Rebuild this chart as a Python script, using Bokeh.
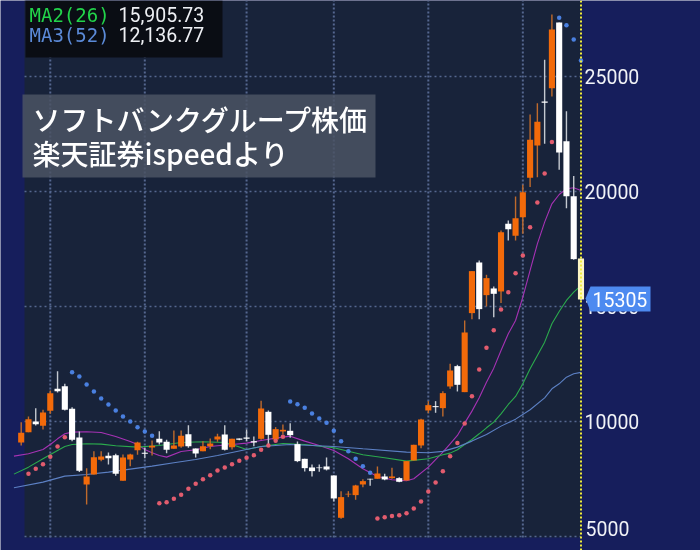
from bokeh.plotting import figure
from bokeh.embed import file_html
from bokeh.resources import INLINE
from bokeh.models import Range1d, FixedTicker, BoxAnnotation, PolyAnnotation, Label

opens = [9088,9537,10001,9813,10465,11421,11537,10552,9305,7262,7697,8335,8509,8538,7422,8349,8755,8639,8871,9247,
         9117,8813,8914,9450,8827,8711,8929,9219,9436,8885,9262,9305,9146,9247,10421,9219,9566,9595,9016,8378,
         8001,8001,8045,7654,5813,6828,6799,7262,7509,7509,7610,7538,7538,7436,8306,8958,10479,10668,10581,11523,
         12407,11277,14712,16914,15494,15784,15654,18595,18074,18885,20596,22002,23914,24494,27349,22190,19798,17088]
highs = [9972,10218,10581,10508,11349,12189,11638,10624,9566,7972,8711,8711,8654,8596,8566,8595,9117,8856,9175,9581,
         9204,9610,9610,9842,8827,9146,9262,9465,9842,9247,9262,9653,9349,10899,10479,9755,9871,9929,9131,8378,
         8132,8132,8436,7654,6972,6972,7248,7494,7509,8045,7726,7987,7581,8277,8987,10117,10885,10885,11320,12508,
         12465,14393,16538,17001,16378,15871,18306,18740,19783,20292,23349,23842,25726,27696,27349,23494,20669,17088]
lows = [8958,9537,9827,9653,10334,11262,10479,9146,7799,6393,7697,8277,8132,7639,7422,8059,8552,8407,8523,9001,
        8624,8813,8856,8856,8436,8711,8798,9117,8740,8784,9190,9146,8929,9204,8958,9175,9436,9291,8233,7827,
        7610,7813,7871,6523,5770,6712,6596,7146,7204,7509,7451,7509,7364,7436,8306,8842,10363,10378,10218,11421,
        11306,11277,14451,14451,15002,14538,15147,17871,17871,18161,20191,20625,22074,24132,20944,19276,17030,15263]
closes = [9508,10102,9885,10392,11233,11320,10508,9204,7856,7610,8451,8480,8407,7726,8436,8566,9088,8595,8943,9088,
          8769,8958,9378,8929,8610,8929,9045,9349,8769,9247,9204,9247,9088,10566,9421,9668,9639,9407,8277,7972,
          7842,7972,7914,6654,6712,6857,7219,7407,7480,7740,7480,7610,7378,8277,8987,10088,10711,10624,11233,12218,
          11595,13870,16538,14886,16233,15552,18233,18363,18842,19972,22248,23031,23857,27044,21698,19798,17059,15305]

sar_low_idx = [1,2,3,4,5,6] + list(range(19,37)) + list(range(49,74))
sar_low = [7726,7943,8146,8465,8914,9320,
           6451,6494,6639,6813,7074,7291,7494,7668,7871,8001,8146,8291,8422,8538,8769,8958,9161,9334,
           5784,5842,5886,5929,6016,6219,6523,6958,7349,7842,8494,9060,9915,11103,12262,13204,13972,14871,15625,16451,17219,18450,19523,20785,22147]
sar_high_idx = list(range(7,19)) + list(range(37,49)) + [74,75,76,77]
sar_high = [12146,11957,11609,11305,11001,10740,10479,10218,10001,9755,9566,9378,
            10870,10754,10595,10349,10131,9943,9595,9146,8711,8378,8059,7770,
            27552,27233,26610,25697]

ma1_idx = [-1,1,3,4,5,6,7,9,11,13,15,16,17,18,19,20,22,24,26,27,29,31,33,35,37,39,41,43,45,47,49,51,53,54,56,58,59,60,61,62,63,64,65,66,67,68,69,70,71,72,73,74,75,76,77]
ma1 = [8494,8595,8784,9001,9247,9465,9537,9552,9523,9349,9131,9001,8784,8639,8523,8451,8697,8769,8914,8943,9001,9059,9175,9277,9363,9146,8958,8740,8378,7943,7610,7465,7422,7509,8016,8668,9031,9393,9929,10451,11030,11711,12320,13088,13812,14392,15408,16567,17726,18668,19465,19870,20117,20160,20044]
ma2_idx = [-1,1,3,5,6,7,9,11,13,16,19,22,25,28,29,31,33,36,39,43,47,50,53,56,58,59,60,61,62,63,64,65,66,67,68,69,70,71,72,73,74,75,76,77]
ma2 = [7712,8016,8378,8740,8914,9001,9030,9016,8943,8885,8958,9088,9117,9088,9001,8784,8914,9045,9001,8856,8552,8422,8277,8378,8552,8625,8770,9002,9219,9465,9726,9972,10335,10740,11088,11639,12291,12870,13450,14248,14784,15263,15625,15906]
ma3_idx = [-1,3,6,9,12,15,18,21,24,27,29,33,37,43,47,53,56,58,60,62,64,66,68,70,72,73,74,75,76,77]
ma3 = [7117,7364,7625,7697,7798,7929,8059,8204,8349,8523,8653,8914,9001,8914,8813,8668,8639,8700,8886,9147,9436,9799,10103,10509,11030,11422,11639,11929,12074,12137]

y_ticks = [5000,10000,15000,20000,25000]
grid_idx = [4,17,31,43,56,69]
last_price = "15305"
title_lines = ["ソフトバンクグループ株価", "楽天証券ispeedより"]
ma_rows = [("MA2(26)", "15,905.73", "#22d44a"), ("MA3(52)", "12,136.77", "#5b8ad8")]

NAVY = "#161e5c"; PANEL = "#18233a"; GRID = "#55678f"
ORANGE = "#f26a0a"; WHITE = "#ffffff"

def X(px): return (px - 20.7) / 7.27
def Y(py): return 5000 + (536 - py) / 0.023

y0, y1 = Y(537), Y(0)
p = figure(frame_width=700, frame_height=550, width=700, height=550,
           x_range=Range1d(X(0), X(700)), y_range=Range1d(Y(550), y1),
           output_backend="svg", toolbar_location=None,
           min_border_left=0, min_border_right=0, min_border_top=0, min_border_bottom=0,
           background_fill_color=NAVY, border_fill_color=NAVY,
           x_axis_location=None, y_axis_location="right",
           styles={"position": "fixed", "left": "0px", "top": "0px"})
p.outline_line_color = None
p.grid.visible = False
ax = p.yaxis[0]
ax.fixed_location = X(584)
ax.ticker = FixedTicker(ticks=y_ticks)
ax.major_label_overrides = {5000: ""}
ax.axis_line_color = None
ax.major_tick_line_color = None
ax.minor_tick_line_color = None
ax.major_tick_out = 0
ax.major_label_standoff = 0
ax.major_label_text_color = "#f0f2f6"
ax.major_label_text_font = "Roboto"
ax.major_label_text_font_size = "19.5px"

n = len(closes)
last = n - 1
p.quad(left=[X(24)], right=[last], bottom=[y0], top=[y1], fill_color=PANEL, line_color=None)
p.segment(x0=[X(24)] * len(y_ticks), x1=[last] * len(y_ticks), y0=y_ticks, y1=y_ticks,
          line_color=GRID, line_width=1.5, line_dash="2 3")
p.segment(x0=grid_idx, x1=grid_idx, y0=[y0] * len(grid_idx), y1=[y1] * len(grid_idx),
          line_color=GRID, line_width=2, line_dash="2 2")

p.line(ma1_idx, ma1, line_color="#a632b4", line_width=1.1)
p.line(ma2_idx, ma2, line_color="#2bab4d", line_width=1.1)
p.line(ma3_idx, ma3, line_color="#5c80c4", line_width=1.1)

for i in range(n):
    up = closes[i] > opens[i]
    if i == last:
        body = "#fdf6c4"
        wick = "#fdf6c4"
    else:
        body = ORANGE if up else WHITE
        wick = "#bf6a2c" if up else "#c4c9d0"
    p.segment([i], [lows[i]], [i], [highs[i]], line_color=wick, line_width=1.4)
    p.vbar(x=[i], width=0.84, bottom=[min(opens[i], closes[i])], top=[max(opens[i], closes[i])],
           fill_color=body, line_color=None)

p.scatter(sar_low_idx, sar_low, size=4.5, fill_color="#e25c6e", line_color=None)
p.scatter(sar_high_idx, sar_high, size=4.5, fill_color="#4a80e0", line_color=None)
p.segment([last], [Y(550)], [last], [y1], line_color="#f0ec3c", line_width=2, line_dash="2 2")

p.add_layout(Label(x=X(585), y=Y(528), text="5000", text_color="#f0f2f6",
                   text_font="Roboto", text_font_size="19.5px", text_baseline="middle"))
p.add_layout(PolyAnnotation(xs=[X(585), X(590), X(650), X(650), X(590)],
                            ys=[Y(298), Y(286), Y(286), Y(311), Y(311)],
                            fill_color="#4d8af0", fill_alpha=1, line_color=None, line_alpha=0))
p.add_layout(Label(x=X(592), y=Y(299), text=last_price, text_color="#ffffff",
                   text_font="Roboto", text_font_size="19.5px", text_baseline="middle"))

p.add_layout(BoxAnnotation(left=X(25), right=X(222), top=y1, bottom=Y(57),
                           fill_color="#0a0d14", fill_alpha=1, line_alpha=0))
for k, (name, val, col) in enumerate(ma_rows):
    yy = Y(14 + 20 * k)
    p.add_layout(Label(x=X(29), y=yy, text=name, text_color=col, text_font="DejaVu Sans Mono",
                       text_font_size="19px", text_baseline="middle"))
    p.add_layout(Label(x=X(118), y=yy, text=val, text_color="#eef0f4", text_font="Roboto",
                       text_font_size="19.5px", text_baseline="middle"))

p.add_layout(BoxAnnotation(left=X(22), right=X(375), top=Y(94), bottom=Y(177),
                           fill_color="#4b5364", fill_alpha=0.85, line_alpha=0))
for k, line in enumerate(title_lines):
    p.add_layout(Label(x=X(32), y=Y(118 + 34 * k), text=line, text_color="#ffffff",
                       text_font="Noto Sans CJK JP Medium", text_font_size="28px", text_baseline="middle"))

open("out.html", "w").write(file_html(p, INLINE))
